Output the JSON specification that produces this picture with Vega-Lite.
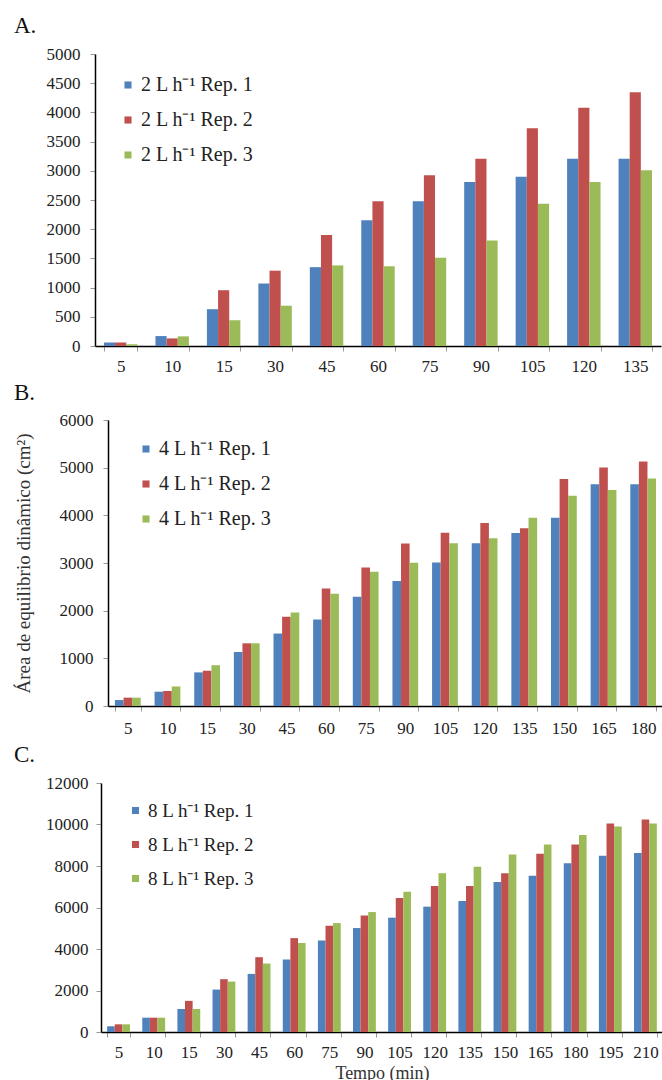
{
  "$schema": "https://vega.github.io/schema/vega-lite/v6.json",
  "padding": {"left": 13, "top": 15, "right": 0, "bottom": 0},
  "config": {
    "font": "Liberation Serif",
    "view": {"stroke": null},
    "axis": {"labelFont": "Liberation Serif", "labelFontSize": 17, "labelColor": "#222", "domainColor": "#000", "domainWidth": 1.5, "tickColor": "#999", "tickSize": 5, "grid": false, "titleFont": "Liberation Serif", "titleFontWeight": "normal", "titleColor": "#333", "titleFontSize": 18},
    "axisX": {"labelAngle": 0, "labelPadding": 7, "tickBand": "extent"},
    "axisY": {"labelPadding": 10, "format": "d"},
    "legend": {"title": null, "orient": "none", "padding": 0, "symbolType": "square", "symbolSize": 50, "labelFont": "Liberation Serif", "labelFontSize": 20, "labelColor": "#222", "rowPadding": 15, "labelOffset": 3, "symbolStrokeWidth": 0},
    "title": {"anchor": "start", "frame": "group", "fontSize": 23, "fontWeight": "normal", "font": "Liberation Serif", "color": "#111", "dx": -94}
  },
  "datasets": {
    "a": [
      {"t": 5, "s": "2 L h⁻¹ Rep. 1", "v": 60}, {"t": 5, "s": "2 L h⁻¹ Rep. 2", "v": 60}, {"t": 5, "s": "2 L h⁻¹ Rep. 3", "v": 30},
      {"t": 10, "s": "2 L h⁻¹ Rep. 1", "v": 170}, {"t": 10, "s": "2 L h⁻¹ Rep. 2", "v": 130}, {"t": 10, "s": "2 L h⁻¹ Rep. 3", "v": 165},
      {"t": 15, "s": "2 L h⁻¹ Rep. 1", "v": 630}, {"t": 15, "s": "2 L h⁻¹ Rep. 2", "v": 955}, {"t": 15, "s": "2 L h⁻¹ Rep. 3", "v": 440},
      {"t": 30, "s": "2 L h⁻¹ Rep. 1", "v": 1070}, {"t": 30, "s": "2 L h⁻¹ Rep. 2", "v": 1290}, {"t": 30, "s": "2 L h⁻¹ Rep. 3", "v": 690},
      {"t": 45, "s": "2 L h⁻¹ Rep. 1", "v": 1350}, {"t": 45, "s": "2 L h⁻¹ Rep. 2", "v": 1900}, {"t": 45, "s": "2 L h⁻¹ Rep. 3", "v": 1380},
      {"t": 60, "s": "2 L h⁻¹ Rep. 1", "v": 2155}, {"t": 60, "s": "2 L h⁻¹ Rep. 2", "v": 2480}, {"t": 60, "s": "2 L h⁻¹ Rep. 3", "v": 1365},
      {"t": 75, "s": "2 L h⁻¹ Rep. 1", "v": 2480}, {"t": 75, "s": "2 L h⁻¹ Rep. 2", "v": 2925}, {"t": 75, "s": "2 L h⁻¹ Rep. 3", "v": 1510},
      {"t": 90, "s": "2 L h⁻¹ Rep. 1", "v": 2810}, {"t": 90, "s": "2 L h⁻¹ Rep. 2", "v": 3205}, {"t": 90, "s": "2 L h⁻¹ Rep. 3", "v": 1805},
      {"t": 105, "s": "2 L h⁻¹ Rep. 1", "v": 2900}, {"t": 105, "s": "2 L h⁻¹ Rep. 2", "v": 3730}, {"t": 105, "s": "2 L h⁻¹ Rep. 3", "v": 2435},
      {"t": 120, "s": "2 L h⁻¹ Rep. 1", "v": 3205}, {"t": 120, "s": "2 L h⁻¹ Rep. 2", "v": 4080}, {"t": 120, "s": "2 L h⁻¹ Rep. 3", "v": 2810},
      {"t": 135, "s": "2 L h⁻¹ Rep. 1", "v": 3205}, {"t": 135, "s": "2 L h⁻¹ Rep. 2", "v": 4345}, {"t": 135, "s": "2 L h⁻¹ Rep. 3", "v": 3010}
    ],
    "b": [
      {"t": 5, "s": "4 L h⁻¹ Rep. 1", "v": 125}, {"t": 5, "s": "4 L h⁻¹ Rep. 2", "v": 175}, {"t": 5, "s": "4 L h⁻¹ Rep. 3", "v": 175},
      {"t": 10, "s": "4 L h⁻¹ Rep. 1", "v": 300}, {"t": 10, "s": "4 L h⁻¹ Rep. 2", "v": 315}, {"t": 10, "s": "4 L h⁻¹ Rep. 3", "v": 410},
      {"t": 15, "s": "4 L h⁻¹ Rep. 1", "v": 705}, {"t": 15, "s": "4 L h⁻¹ Rep. 2", "v": 740}, {"t": 15, "s": "4 L h⁻¹ Rep. 3", "v": 855},
      {"t": 30, "s": "4 L h⁻¹ Rep. 1", "v": 1135}, {"t": 30, "s": "4 L h⁻¹ Rep. 2", "v": 1315}, {"t": 30, "s": "4 L h⁻¹ Rep. 3", "v": 1315},
      {"t": 45, "s": "4 L h⁻¹ Rep. 1", "v": 1520}, {"t": 45, "s": "4 L h⁻¹ Rep. 2", "v": 1875}, {"t": 45, "s": "4 L h⁻¹ Rep. 3", "v": 1960},
      {"t": 60, "s": "4 L h⁻¹ Rep. 1", "v": 1815}, {"t": 60, "s": "4 L h⁻¹ Rep. 2", "v": 2465}, {"t": 60, "s": "4 L h⁻¹ Rep. 3", "v": 2355},
      {"t": 75, "s": "4 L h⁻¹ Rep. 1", "v": 2290}, {"t": 75, "s": "4 L h⁻¹ Rep. 2", "v": 2905}, {"t": 75, "s": "4 L h⁻¹ Rep. 3", "v": 2815},
      {"t": 90, "s": "4 L h⁻¹ Rep. 1", "v": 2620}, {"t": 90, "s": "4 L h⁻¹ Rep. 2", "v": 3410}, {"t": 90, "s": "4 L h⁻¹ Rep. 3", "v": 3005},
      {"t": 105, "s": "4 L h⁻¹ Rep. 1", "v": 3010}, {"t": 105, "s": "4 L h⁻¹ Rep. 2", "v": 3635}, {"t": 105, "s": "4 L h⁻¹ Rep. 3", "v": 3415},
      {"t": 120, "s": "4 L h⁻¹ Rep. 1", "v": 3415}, {"t": 120, "s": "4 L h⁻¹ Rep. 2", "v": 3840}, {"t": 120, "s": "4 L h⁻¹ Rep. 3", "v": 3520},
      {"t": 135, "s": "4 L h⁻¹ Rep. 1", "v": 3630}, {"t": 135, "s": "4 L h⁻¹ Rep. 2", "v": 3730}, {"t": 135, "s": "4 L h⁻¹ Rep. 3", "v": 3950},
      {"t": 150, "s": "4 L h⁻¹ Rep. 1", "v": 3950}, {"t": 150, "s": "4 L h⁻¹ Rep. 2", "v": 4760}, {"t": 150, "s": "4 L h⁻¹ Rep. 3", "v": 4410},
      {"t": 165, "s": "4 L h⁻¹ Rep. 1", "v": 4650}, {"t": 165, "s": "4 L h⁻¹ Rep. 2", "v": 5005}, {"t": 165, "s": "4 L h⁻¹ Rep. 3", "v": 4530},
      {"t": 180, "s": "4 L h⁻¹ Rep. 1", "v": 4650}, {"t": 180, "s": "4 L h⁻¹ Rep. 2", "v": 5130}, {"t": 180, "s": "4 L h⁻¹ Rep. 3", "v": 4775}
    ],
    "c": [
      {"t": 5, "s": "8 L h⁻¹ Rep. 1", "v": 275}, {"t": 5, "s": "8 L h⁻¹ Rep. 2", "v": 370}, {"t": 5, "s": "8 L h⁻¹ Rep. 3", "v": 370},
      {"t": 10, "s": "8 L h⁻¹ Rep. 1", "v": 690}, {"t": 10, "s": "8 L h⁻¹ Rep. 2", "v": 690}, {"t": 10, "s": "8 L h⁻¹ Rep. 3", "v": 690},
      {"t": 15, "s": "8 L h⁻¹ Rep. 1", "v": 1110}, {"t": 15, "s": "8 L h⁻¹ Rep. 2", "v": 1500}, {"t": 15, "s": "8 L h⁻¹ Rep. 3", "v": 1110},
      {"t": 30, "s": "8 L h⁻¹ Rep. 1", "v": 2045}, {"t": 30, "s": "8 L h⁻¹ Rep. 2", "v": 2545}, {"t": 30, "s": "8 L h⁻¹ Rep. 3", "v": 2430},
      {"t": 45, "s": "8 L h⁻¹ Rep. 1", "v": 2800}, {"t": 45, "s": "8 L h⁻¹ Rep. 2", "v": 3605}, {"t": 45, "s": "8 L h⁻¹ Rep. 3", "v": 3300},
      {"t": 60, "s": "8 L h⁻¹ Rep. 1", "v": 3495}, {"t": 60, "s": "8 L h⁻¹ Rep. 2", "v": 4525}, {"t": 60, "s": "8 L h⁻¹ Rep. 3", "v": 4285},
      {"t": 75, "s": "8 L h⁻¹ Rep. 1", "v": 4410}, {"t": 75, "s": "8 L h⁻¹ Rep. 2", "v": 5120}, {"t": 75, "s": "8 L h⁻¹ Rep. 3", "v": 5250},
      {"t": 90, "s": "8 L h⁻¹ Rep. 1", "v": 5010}, {"t": 90, "s": "8 L h⁻¹ Rep. 2", "v": 5620}, {"t": 90, "s": "8 L h⁻¹ Rep. 3", "v": 5780},
      {"t": 105, "s": "8 L h⁻¹ Rep. 1", "v": 5510}, {"t": 105, "s": "8 L h⁻¹ Rep. 2", "v": 6460}, {"t": 105, "s": "8 L h⁻¹ Rep. 3", "v": 6765},
      {"t": 120, "s": "8 L h⁻¹ Rep. 1", "v": 6040}, {"t": 120, "s": "8 L h⁻¹ Rep. 2", "v": 7040}, {"t": 120, "s": "8 L h⁻¹ Rep. 3", "v": 7655},
      {"t": 135, "s": "8 L h⁻¹ Rep. 1", "v": 6310}, {"t": 135, "s": "8 L h⁻¹ Rep. 2", "v": 7040}, {"t": 135, "s": "8 L h⁻¹ Rep. 3", "v": 7960},
      {"t": 150, "s": "8 L h⁻¹ Rep. 1", "v": 7230}, {"t": 150, "s": "8 L h⁻¹ Rep. 2", "v": 7650}, {"t": 150, "s": "8 L h⁻¹ Rep. 3", "v": 8550},
      {"t": 165, "s": "8 L h⁻¹ Rep. 1", "v": 7535}, {"t": 165, "s": "8 L h⁻¹ Rep. 2", "v": 8585}, {"t": 165, "s": "8 L h⁻¹ Rep. 3", "v": 9035},
      {"t": 180, "s": "8 L h⁻¹ Rep. 1", "v": 8130}, {"t": 180, "s": "8 L h⁻¹ Rep. 2", "v": 9035}, {"t": 180, "s": "8 L h⁻¹ Rep. 3", "v": 9500},
      {"t": 195, "s": "8 L h⁻¹ Rep. 1", "v": 8500}, {"t": 195, "s": "8 L h⁻¹ Rep. 2", "v": 10050}, {"t": 195, "s": "8 L h⁻¹ Rep. 3", "v": 9905},
      {"t": 210, "s": "8 L h⁻¹ Rep. 1", "v": 8630}, {"t": 210, "s": "8 L h⁻¹ Rep. 2", "v": 10240}, {"t": 210, "s": "8 L h⁻¹ Rep. 3", "v": 10050}
    ]
  },
  "spacing": 8,
  "resolve": {"scale": {"color": "independent", "xOffset": "independent"}},
  "vconcat": [
    {
      "title": {"text": "A.", "offset": 7},
      "width": 553,
      "height": 292,
      "data": {"name": "a"},
      "mark": {"type": "bar"},
      "encoding": {
        "x": {"field": "t", "type": "ordinal", "scale": {"range": [-13, 553], "paddingInner": 0.35, "paddingOuter": 0.175}, "axis": {"title": null}},
        "xOffset": {"field": "s", "type": "nominal"},
        "y": {"field": "v", "type": "quantitative", "scale": {"domain": [0, 5000]}, "axis": {"title": null, "offset": 13, "values": [0, 500, 1000, 1500, 2000, 2500, 3000, 3500, 4000, 4500, 5000]}},
        "color": {"field": "s", "type": "nominal", "scale": {"range": ["#4F81BD", "#C0504D", "#9BBB59"]}, "legend": {"legendX": 10, "legendY": 21}}
      }
    },
    {
      "title": {"text": "B.", "offset": 6},
      "width": 555,
      "height": 286,
      "data": {"name": "b"},
      "mark": {"type": "bar"},
      "encoding": {
        "x": {"field": "t", "type": "ordinal", "scale": {"paddingInner": 0.35, "paddingOuter": 0.175}, "axis": {"title": null, "labelPadding": 9}},
        "xOffset": {"field": "s", "type": "nominal"},
        "y": {"field": "v", "type": "quantitative", "scale": {"domain": [0, 6000]}, "axis": {"title": "Área de equilibrio dinâmico (cm²)", "titleFontSize": 19, "titlePadding": 26, "values": [0, 1000, 2000, 3000, 4000, 5000, 6000]}},
        "color": {"field": "s", "type": "nominal", "scale": {"range": ["#4F81BD", "#C0504D", "#9BBB59"]}, "legend": {"legendX": 28, "legendY": 19}}
      }
    },
    {
      "title": {"text": "C.", "offset": 7},
      "width": 555,
      "height": 249,
      "data": {"name": "c"},
      "mark": {"type": "bar"},
      "encoding": {
        "x": {"field": "t", "type": "ordinal", "scale": {"range": [-7, 555], "paddingInner": 0.35, "paddingOuter": 0.175}, "axis": {"title": "Tempo (min)", "titlePadding": 4}},
        "xOffset": {"field": "s", "type": "nominal"},
        "y": {"field": "v", "type": "quantitative", "scale": {"domain": [0, 12000]}, "axis": {"title": null, "offset": 7, "labelPadding": 8, "values": [0, 2000, 4000, 6000, 8000, 10000, 12000]}},
        "color": {"field": "s", "type": "nominal", "scale": {"range": ["#4F81BD", "#C0504D", "#9BBB59"]}, "legend": {"legendX": 18, "legendY": 18, "labelFontSize": 19, "rowPadding": 14}}
      }
    }
  ]
}
